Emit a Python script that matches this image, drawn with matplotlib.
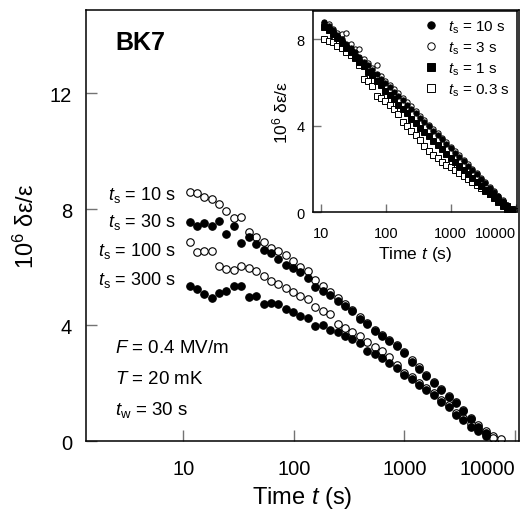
import matplotlib
matplotlib.use("Agg")
import matplotlib.pyplot as plt
from matplotlib.ticker import NullLocator

plt.rcParams['font.family'] = ['Liberation Sans', 'DejaVu Sans']
plt.rcParams['mathtext.fontset'] = 'custom'
plt.rcParams['mathtext.rm'] = 'Liberation Sans'
plt.rcParams['mathtext.it'] = 'Liberation Sans:italic'

# time grid (s)
t_main = [11.4, 13.3, 15.5, 18.1, 21.1, 24.6, 28.8, 33.6, 39.2, 45.7, 53.3, 62.2,
          72.6, 84.7, 98.8, 115, 134, 157, 183, 213, 249, 290, 339, 395, 461, 538,
          628, 733, 855, 998, 1164, 1358, 1585, 1849, 2157, 2517, 2937, 3427, 3999,
          4666, 5445, 6353, 7413]

# main panel, t_w = 30 s
ts10 = [8.60, 8.55, 8.40, 8.34, 8.16, 7.93, 7.70, 7.73, 7.20, 7.04, 6.86, 6.66,
        6.55, 6.43, 6.20, 6.01, 5.85, 5.55, 5.35, 5.15, 4.92, 4.72, 4.52, 4.28,
        4.08, 3.84, 3.66, 3.48, 3.30, 3.08, 2.78, 2.55, 2.28, 2.05, 1.80, 1.55,
        1.36, 1.08, 0.80, 0.55, 0.33, 0.17, 0.08]
ts30 = [7.54, 7.42, 7.52, 7.40, 7.57, 7.14, 7.40, 6.83, 7.02, 6.79, 6.60, 6.48,
        6.28, 6.07, 5.96, 5.84, 5.62, 5.32, 5.18, 5.03, 4.84, 4.65, 4.47, 4.20,
        4.02, 3.79, 3.62, 3.44, 3.27, 3.03, 2.74, 2.50, 2.25, 2.01, 1.76, 1.51,
        1.32, 1.04, 0.75, 0.50, 0.28]
ts100 = [6.87, 6.51, 6.56, 6.56, 6.02, 5.93, 5.91, 6.02, 5.97, 5.85, 5.70, 5.52,
         5.40, 5.28, 5.14, 5.00, 4.88, 4.62, 4.50, 4.37, 4.02, 3.90, 3.75, 3.62,
         3.40, 3.24, 3.10, 2.88, 2.62, 2.36, 2.20, 2.00, 1.82, 1.66, 1.43, 1.24,
         0.98, 0.80, 0.58, 0.40, 0.24, 0.12]
ts300 = [5.33, 5.24, 5.07, 4.92, 5.10, 5.18, 5.36, 5.33, 4.95, 5.01, 4.72, 4.75,
         4.72, 4.55, 4.44, 4.32, 4.23, 3.98, 4.00, 3.84, 3.75, 3.61, 3.52, 3.38,
         3.11, 3.00, 2.85, 2.70, 2.52, 2.28, 2.13, 1.94, 1.76, 1.59, 1.36, 1.17,
         0.90, 0.73, 0.50, 0.33, 0.18]

# inset
t_inset = t_main + [8670, 10100]
in_ts10 = [8.82, 8.62, 8.45, 8.22, 8.02, 7.80, 7.60, 7.42, 7.20, 6.98, 6.80, 6.58,
           6.40, 6.18, 6.00, 5.78, 5.58, 5.38, 5.20, 4.98, 4.78, 4.58, 4.38, 4.18,
           3.98, 3.78, 3.56, 3.38, 3.18, 2.98, 2.76, 2.56, 2.36, 2.16, 1.96, 1.76,
           1.54, 1.34, 1.14, 0.94, 0.74, 0.54, 0.34, 0.14]
in_ts3 = [8.78, 8.70, 8.50, 8.30, 8.25, 8.28, 7.80, 7.55, 7.56, 7.10, 6.90, 6.70,
          6.82, 6.30, 6.10, 5.90, 5.70, 5.50, 5.30, 5.10, 4.90, 4.68, 4.48, 4.28,
          4.06, 3.86, 3.66, 3.46, 3.26, 3.04, 2.84, 2.64, 2.44, 2.22, 2.02, 1.80,
          1.60, 1.40, 1.18, 0.98, 0.76, 0.56, 0.36, 0.16, 0.02]
in_ts1 = [8.60, 8.45, 8.25, 8.05, 7.85, 7.62, 7.40, 7.20, 6.95, 6.75, 6.50, 6.35,
          6.10, 5.90, 5.60, 5.45, 5.25, 4.95, 4.80, 4.58, 4.32, 4.12, 3.92, 3.72,
          3.52, 3.32, 3.10, 2.92, 2.72, 2.52, 2.34, 2.16, 1.96, 1.78, 1.58, 1.40,
          1.20, 1.02, 0.84, 0.64, 0.46, 0.28, 0.12, 0.03]
in_ts03 = [8.02, 7.95, 7.87, 7.71, 7.59, 7.41, 7.28, 7.13, 6.80, 6.17, 6.09, 5.83,
           5.40, 5.28, 5.17, 4.97, 4.78, 4.55, 4.19, 4.01, 3.78, 3.60, 3.35, 3.05,
           2.85, 2.65, 2.50, 2.35, 2.20, 2.10, 1.95, 1.82, 1.68, 1.55, 1.40, 1.26,
           1.12, 0.98, 0.84, 0.70, 0.56, 0.42, 0.28, 0.15, 0.05]

fig = plt.figure(figsize=(5.23, 5.10), dpi=100)
ax = fig.add_axes([0.1644, 0.1333, 0.828, 0.845])

mk = dict(ls='none', marker='o', ms=5.4, mec='black', mew=0.8)
ax.plot(t_main[:len(ts10)], ts10, mfc='white', **mk)
ax.plot(t_main[:len(ts100)], ts100, mfc='white', **mk)
ax.plot(t_main[:len(ts30)], ts30, mfc='black', **mk)
ax.plot(t_main[:len(ts300)], ts300, mfc='black', **mk)

ax.set_xscale('log')
ax.set_xlim(1.32, 10900)
ax.set_ylim(0, 14.86)
ax.set_xticks([10, 100, 1000, 10000], ['10', '100', '1000', '10000'])
ax.xaxis.set_minor_locator(NullLocator())
ax.set_yticks([0, 4, 8, 12])
ax.tick_params(direction='in', length=8, width=1, color='0.45', labelsize=14.5)
ax.tick_params(axis='y', pad=10)
ax.tick_params(axis='x', pad=13)
ax.get_xticklabels()[-1].set_horizontalalignment('right')
for s in ax.spines.values():
    s.set_linewidth(1.1)
ax.set_xlabel('Time $t$ (s)', fontsize=17, labelpad=4)
ax.set_ylabel('$10^6$ δε/ε', fontsize=17, labelpad=8)

ax.text(2.43, 13.52, 'BK7', fontsize=18, fontweight='bold', va='baseline')
for lab, yy in [('10', 8.33), ('30', 7.40), ('100', 6.40), ('300', 5.40)]:
    ax.text(8.5, yy, '$t_\\mathrm{s}$ = ' + lab + ' s', fontsize=13,
            ha='right', va='baseline')
ax.text(2.43, 3.06, '$F$ = 0.4 MV/m', fontsize=13.5, va='baseline')
ax.text(2.43, 2.00, '$T$ = 20 mK', fontsize=13.5, va='baseline')
ax.text(2.43, 0.93, '$t_\\mathrm{w}$ = 30 s', fontsize=13.5, va='baseline')

# inset
ins = fig.add_axes([0.5985, 0.5818, 0.39, 0.3947])
sm = dict(ls='none', ms=3.8, mec='black', mew=0.7)
ins.plot(t_inset[:len(in_ts03)], in_ts03, marker='s', mfc='white', label='$t_\\mathrm{s}$ = 0.3 s', **sm)
ins.plot(t_inset[:len(in_ts3)], in_ts3, marker='o', mfc='white', label='$t_\\mathrm{s}$ = 3 s', **sm)
ins.plot(t_inset[:len(in_ts1)], in_ts1, marker='s', mfc='black', label='$t_\\mathrm{s}$ = 1 s', **sm)
ins.plot(t_inset[:len(in_ts10)], in_ts10, marker='o', mfc='black', label='$t_\\mathrm{s}$ = 10 s', **sm)
ins.set_xscale('log')
ins.set_xlim(7.6, 10500)
ins.set_ylim(0, 9.32)
ins.set_xticks([10, 100, 1000, 10000], ['10', '100', '1000', '10000'])
ins.xaxis.set_minor_locator(NullLocator())
ins.set_yticks([0, 4, 8])
ins.tick_params(direction='in', length=6, width=1, color='0.45', labelsize=10.5)
ins.tick_params(axis='y', pad=6)
ins.tick_params(axis='x', pad=10)
ins.get_xticklabels()[-1].set_horizontalalignment('right')
for s in ins.spines.values():
    s.set_linewidth(1.1)
ins.set_xlabel('Time $t$ (s)', fontsize=12.5, labelpad=3)
ins.set_ylabel('$10^6$ δε/ε', fontsize=12.5, labelpad=4)

h, l = ins.get_legend_handles_labels()
order = [3, 1, 2, 0]
ins.legend([h[i] for i in order], [l[i] for i in order], loc='upper right',
           frameon=False, fontsize=11, handlelength=1.0, handletextpad=0.6,
           labelspacing=0.3, borderaxespad=0.1, markerscale=1.4)

fig.savefig('out.png', dpi=100)
